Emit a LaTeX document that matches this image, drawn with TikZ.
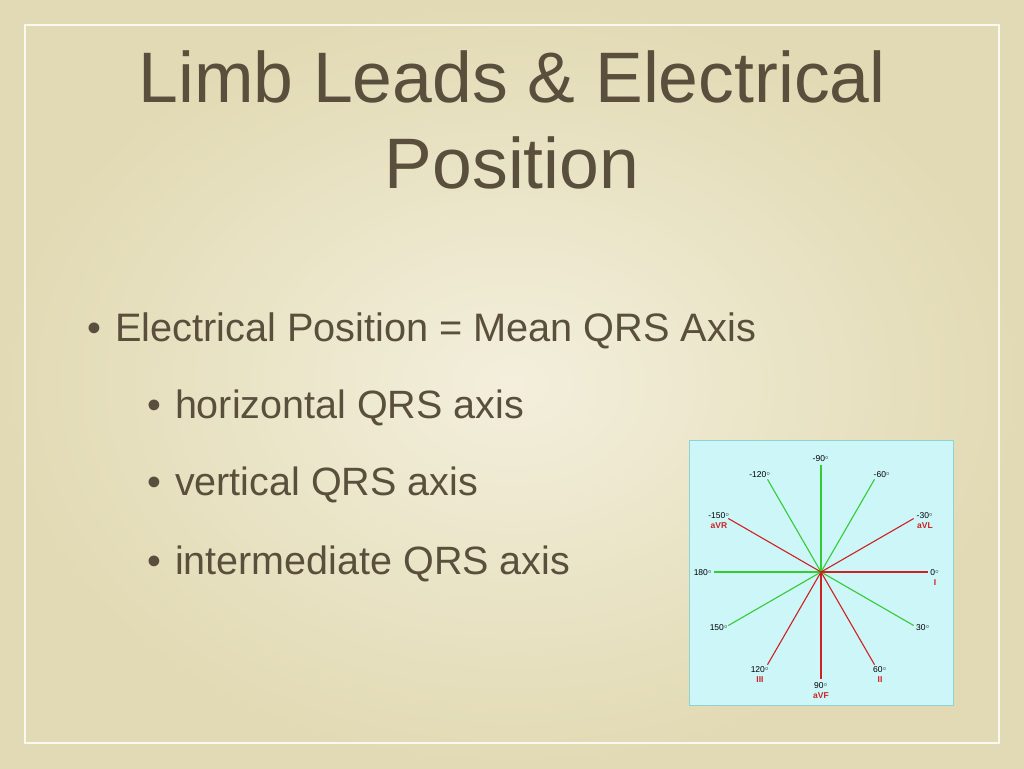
\documentclass[tikz,border=0pt]{standalone}
\usepackage{fontspec}
\setmainfont{Liberation Sans}
\begin{document}
\begin{tikzpicture}[x=1pt,y=-1pt,
  txt/.style={text=textc,anchor=base west,inner sep=0},
  deg/.style={font=\fontsize{8.5}{9}\selectfont,inner sep=0.5pt,text=black},
  lead/.style={font=\fontsize{8.5}{9}\selectfont\bfseries,inner sep=0.5pt,text=leadred},
  gline/.style={draw=lgreen,line width=1.1pt},
  rline/.style={draw=leadred,line width=1.1pt}]
\definecolor{textc}{HTML}{5A4F3C}
\definecolor{bgA}{HTML}{F3EFDC}
\definecolor{bgB}{HTML}{E2DAB4}
\definecolor{lgreen}{HTML}{33CC33}
\definecolor{leadred}{HTML}{CC2222}
\definecolor{cyanbg}{HTML}{CCF6F8}
\useasboundingbox (0,0) rectangle (1024,768);
\shade[inner color=bgA,outer color=bgB] (0,0) rectangle (1024,768);
\draw[draw=white!60!bgA,line width=1.5pt] (25,25) rectangle (999,743);
\node[text=textc,font=\fontsize{71.5}{86}\selectfont,anchor=base,inner sep=0] (title1) at (512,102) {Limb Leads \& Electrical};
\node[text=textc,font=\fontsize{71.5}{86}\selectfont,anchor=base,inner sep=0] (title2) at (512,188) {Position};
\node[txt,font=\fontsize{39.7}{44}\selectfont] (b1) at (87,341) {\textbullet\hspace{14pt}Electrical Position = Mean QRS Axis};
\node[txt,font=\fontsize{39.5}{44}\selectfont] (b2) at (147,418) {\textbullet\hspace{14pt}horizontal QRS axis};
\node[txt,font=\fontsize{39.5}{44}\selectfont] (b3) at (147,495) {\textbullet\hspace{14pt}vertical QRS axis};
\node[txt,font=\fontsize{39.5}{44}\selectfont] (b4) at (147,574) {\textbullet\hspace{14pt}intermediate QRS axis};
\draw[fill=cyanbg,draw=cyanbg!70!teal,line width=0.8pt] (689,440) rectangle (953,705);
\coordinate (c) at (821,572);
\foreach \a in {-90,-60,-120,180,30,150}{\draw[gline] (c) -- ++(\a:107) coordinate (g\a);}
\foreach \a in {0,-30,-150,90,60,120}{\draw[rline] (c) -- ++(\a:107);}
\node[deg] (dm90) at (821,459) {-90$^\circ$};
\node[deg] (dm60) at (882,475) {-60$^\circ$};
\node[deg] (dm120) at (760,475) {-120$^\circ$};
\node[deg] (dm150) at (719,516) {-150$^\circ$};
\node[lead] (avr) at (719,526) {aVR};
\node[deg] (dm30) at (925,516) {-30$^\circ$};
\node[lead] (avl) at (925,526) {aVL};
\node[deg] (d180) at (703,573) {180$^\circ$};
\node[deg] (d0) at (935,573) {0$^\circ$};
\node[lead] (l1) at (935,583) {I};
\node[deg] (d150) at (719,628) {150$^\circ$};
\node[deg] (d30) at (923,628) {30$^\circ$};
\node[deg] (d120) at (760,670) {120$^\circ$};
\node[lead] (l3) at (760,680) {III};
\node[deg] (d60) at (880,670) {60$^\circ$};
\node[lead] (l2) at (880,680) {II};
\node[deg] (d90) at (821,686) {90$^\circ$};
\node[lead] (avf) at (821,696) {aVF};
\end{tikzpicture}
\end{document}
